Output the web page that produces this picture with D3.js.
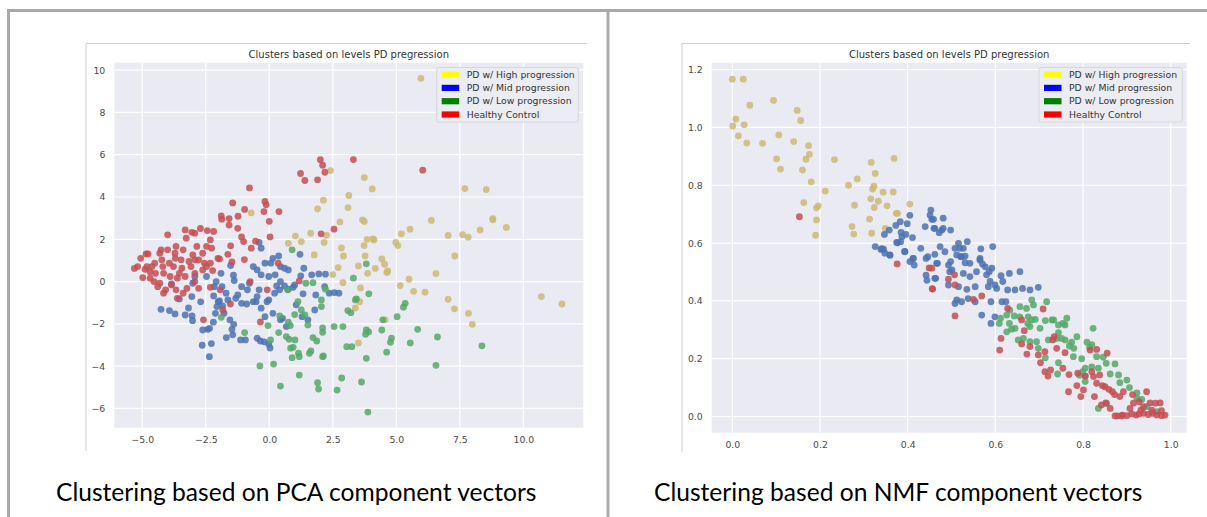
<!DOCTYPE html>
<html>
<head>
<meta charset="utf-8">
<title>Clusters based on levels PD progression</title>
<script src="https://cdn.jsdelivr.net/npm/d3@7"></script>
<style>
  body { margin: 0; background: #fff; }
  svg { display: block; }
  .tick text { font-family: "DejaVu Sans", sans-serif; font-size: 9.3px; fill: #4a4a4a; }
  .ptitle { font-family: "DejaVu Sans", sans-serif; font-size: 10px; fill: #333; }
  .legend text { font-family: "DejaVu Sans", sans-serif; font-size: 9.3px; fill: #333; }
  .caption { font-family: Lato, "Open Sans", sans-serif; font-size: 24.6px; fill: #000; }
</style>
</head>
<body>
<script>
// legend labels / colours
var legendLabels = ["PD w/ High progression", "PD w/ Mid progression", "PD w/ Low progression", "Healthy Control"];
var legendColors = ["#ffff00", "#0000ff", "#008000", "#ff0000"];
var pointColors = ["#ccb974", "#4c72b0", "#55a868", "#c44e52"];

// PCA panel ticks
var pcaXTicks = [-5, -2.5, 0, 2.5, 5, 7.5, 10];
var pcaYTicks = [-6, -4, -2, 0, 2, 4, 6, 8, 10];
// NMF panel ticks
var nmfXTicks = [0, 0.2, 0.4, 0.6, 0.8, 1.0];
var nmfYTicks = [0, 0.2, 0.4, 0.6, 0.8, 1.0, 1.2];

// PCA clusters [x, y]
var pcaHigh = [[5.97,9.61],[2.41,5.25],[3.74,4.92],[4.05,4.38],[3.13,4.07],[2.13,3.85],[1.90,3.44],[3.10,3.50],
  [-0.71,3.25],[3.67,2.92],[3.74,2.84],[2.78,2.82],[6.38,2.89],[7.70,4.40],[8.54,4.35],[8.80,2.98],[8.80,2.92],
  [9.33,2.56],[8.30,2.44],[7.61,2.22],[7.04,2.18],[7.83,2.10],[5.54,2.48],[5.20,2.26],[1.63,2.29],[1.03,2.15],
  [2.25,2.19],[0.75,1.81],[1.26,1.89],[2.16,1.85],[3.85,2.00],[4.08,2.02],[4.12,1.97],[4.98,1.85],[5.06,1.70],
  [2.84,1.59],[3.73,1.70],[2.92,1.21],[1.77,1.26],[3.77,1.21],[4.43,1.07],[7.30,1.21],[2.71,0.66],[3.51,0.74],
  [4.17,0.62],[4.54,0.82],[4.66,0.50],[4.63,0.43],[3.87,0.39],[2.50,0.33],[6.56,0.38],[5.50,0.11],[2.90,-0.05],
  [5.15,-0.19],[3.59,-0.30],[5.68,-0.46],[6.13,-0.50],[7.04,-0.84],[3.56,-0.95],[3.39,-1.25],[10.71,-0.71],
  [11.52,-1.06],[7.29,-1.29],[7.84,-1.50],[4.56,-1.81],[7.99,-2.02],[3.51,-2.90]];

var pcaMid = [[-4.26,-1.31],[-3.93,-1.37],[-3.71,-1.53],[-3.54,-0.82],[-3.85,-0.11],[-3.31,-1.58],[-3.04,-1.62],
  [-3.02,-1.85],[-3.05,-0.71],[-3.18,-1.25],[-2.70,-0.96],[-2.64,-3.01],[-2.36,-3.55],[-2.28,-2.93],[-2.62,-2.29],
  [-2.42,-2.26],[-2.20,-1.92],[-2.35,-2.21],[-2.12,-1.50],[-2.06,-1.18],[-1.96,-0.91],[-1.78,-1.50],[-1.55,-1.81],
  [-1.47,-2.26],[-1.40,-2.02],[-1.69,-2.65],[-1.44,-2.52],[-1.13,-2.76],[-0.94,-2.76],[-0.48,-2.68],[-0.35,-2.81],
  [-0.20,-2.85],[0.03,-3.14],[-0.02,-2.95],[-2.19,-0.68],[-2.01,-0.95],[-1.84,-1.15],[-1.63,-0.87],[-1.24,-0.63],
  [-1.09,-1.03],[-0.89,-1.06],[-0.63,-0.95],[-0.52,-0.95],[-0.32,-1.26],[-0.09,-0.95],[-0.02,-0.87],[-0.17,-1.66],
  [0.21,-0.55],[0.29,-0.21],[0.41,-0.39],[0.75,-0.36],[1.00,-0.16],[1.24,0.27],[1.21,1.29],[1.36,0.63],[1.67,0.32],
  [1.95,0.36],[2.21,0.35],[2.18,-0.24],[2.36,-0.55],[2.56,-0.52],[2.74,-0.55],[1.83,-0.63],[1.33,-0.58],[0.94,-0.27],
  [-0.40,1.85],[-0.32,1.58],[-1.52,0.76],[-1.41,0.30],[-1.38,0.05],[-1.09,-0.24],[-0.78,-0.08],[-0.63,0.71],
  [-0.48,0.55],[-0.32,0.32],[-0.17,0.87],[0.06,0.87],[0.14,1.10],[0.37,1.21],[0.60,0.63],[0.75,0.55],[0.44,0.71],
  [-0.02,0.24],[0.23,0.32],[0.44,0.00],[0.60,-0.21],[-1.90,0.39],[-2.09,0.00],[-2.16,-0.24],[-2.47,0.24],[-2.93,0.24],
  [-3.01,-0.08],[-1.86,-0.24],[-1.70,-0.55],[-1.32,-0.79],[-0.86,-0.39],[-0.40,-0.39],[-0.48,-0.71],[0.14,-1.50],
  [0.44,-1.81],[0.67,-2.13],[0.52,-1.74],[1.29,-1.66],[1.52,-1.81],[1.06,-1.10],[1.79,-1.34]];

var pcaLow = [[0.90,1.50],[3.82,0.84],[3.31,0.16],[1.44,-0.08],[1.72,-0.05],[2.21,-0.36],[3.92,-0.58],[3.39,-0.87],
  [3.43,-0.82],[5.35,-1.03],[5.28,-1.21],[5.03,-1.66],[3.09,-1.37],[3.21,-1.47],[4.47,-1.81],[5.84,-2.26],[6.62,-2.62],
  [4.81,-2.67],[4.77,-2.87],[4.43,-2.29],[3.82,-2.29],[3.91,-2.38],[3.79,-2.49],[5.55,-2.90],[4.62,-3.34],[8.37,-3.04],
  [6.56,-3.96],[3.82,-3.63],[3.63,-4.75],[3.88,-6.17],[2.67,-5.13],[2.85,-4.56],[2.90,-2.13],[2.55,-2.13],[3.05,-3.08],
  [3.25,-3.08],[2.10,-3.55],[2.13,-3.52],[1.90,-4.78],[1.94,-5.08],[1.18,-4.42],[1.64,-3.28],[1.58,-3.39],[1.87,-2.81],
  [1.72,-2.65],[2.10,-2.19],[2.10,-2.40],[1.52,-2.05],[1.40,-1.58],[1.26,-1.34],[1.13,-0.95],[2.05,-1.18],[2.05,-0.87],
  [0.72,-0.39],[1.00,-1.56],[0.75,-1.92],[0.83,-2.08],[0.41,-1.62],[0.37,-2.41],[-0.05,-2.08],[0.05,-2.76],[0.67,-2.60],
  [0.78,-2.73],[1.01,-2.76],[0.84,-3.15],[0.94,-3.11],[0.90,-3.60],[1.15,-3.39],[1.18,-3.55],[0.44,-4.94],[0.17,-3.90],
  [-0.37,-3.99],[-0.97,-2.41],[-1.89,-1.69]];

var pcaHealthy = [[2.01,5.76],[3.31,5.77],[2.10,5.50],[2.19,5.17],[1.23,5.11],[1.40,4.78],[1.90,4.81],[6.04,5.27],
  [-0.78,4.43],[-0.17,3.79],[-0.12,3.63],[-0.21,3.31],[0.38,3.31],[0.00,2.85],[0.03,2.11],[-1.44,3.72],[-0.97,3.41],
  [-1.23,3.09],[-1.58,2.98],[-1.89,3.11],[-1.87,2.95],[-1.24,2.52],[-1.58,2.67],[-1.09,2.11],[-1.01,1.89],[-0.54,1.91],
  [-0.71,1.58],[-1.52,1.69],[-1.63,1.29],[-2.02,1.10],[-1.96,1.07],[-0.98,1.04],[-1.47,0.93],[2.04,2.26],[2.55,2.48],
  [0.35,0.87],[-0.75,0.00],[-0.35,-1.91],[1.18,0.03],[-0.08,-0.39],[-2.59,-1.81],[-1.83,-1.34],[-1.53,-1.06],
  [-1.93,-0.39],[-2.32,-0.27],[-5.31,0.62],[-5.18,0.71],[-4.98,0.19],[-4.89,0.58],[-4.85,1.31],[-4.77,1.31],
  [-4.82,0.71],[-4.69,0.47],[-4.62,0.71],[-4.54,0.00],[-4.48,0.39],[-4.39,-0.24],[-4.31,1.34],[-4.26,1.50],
  [-4.19,0.71],[-4.16,-0.55],[-4.08,-0.39],[-4.23,1.03],[-4.00,2.21],[-4.00,1.50],[-3.93,0.87],[-3.90,0.24],
  [-3.77,0.71],[-3.85,-0.16],[-3.71,1.34],[-3.67,1.66],[-3.62,-0.79],[-3.54,0.39],[-3.47,1.03],[-3.39,1.50],
  [-3.27,2.05],[-3.31,2.44],[-3.05,2.33],[-2.93,2.29],[-2.71,2.51],[-2.44,2.41],[-2.19,2.37],[-2.32,1.97],
  [-2.47,1.66],[-2.62,1.34],[-2.85,1.66],[-3.01,1.26],[-3.16,0.95],[-3.08,0.71],[-2.78,1.03],[-2.55,0.87],
  [-2.32,0.87],[-2.27,1.58],[-3.31,0.24],[-2.93,0.39],[-2.62,0.55],[-3.24,-0.32],[-3.39,-0.55],[-2.78,-0.32],
  [-2.47,0.71],[-3.62,0.16],[-4.16,0.39],[-4.51,0.87],[-5.06,1.10],[-3.70,1.10],[-3.44,0.63],[-2.93,1.03],
  [-2.23,0.52],[-4.31,-0.08],[-2.93,0.00],[-3.67,-0.39],[-4.69,0.16]];

// NMF clusters [x, y]
var nmfHigh = [[0.000,1.167],[0.025,1.167],[0.040,1.077],[0.008,1.029],[0.001,1.005],[0.027,1.009],[0.014,0.971],
  [0.033,0.946],[0.069,0.945],[0.094,1.094],[0.101,0.891],[0.110,0.856],[0.106,0.974],[0.140,0.951],[0.148,1.059],
  [0.156,1.024],[0.174,0.937],[0.176,0.907],[0.168,0.890],[0.160,0.853],[0.180,0.812],[0.163,0.740],[0.192,0.722],
  [0.196,0.729],[0.192,0.680],[0.190,0.627],[0.212,0.780],[0.233,0.889],[0.265,0.800],[0.285,0.822],[0.279,0.731],
  [0.273,0.657],[0.277,0.631],[0.317,0.879],[0.326,0.841],[0.323,0.797],[0.320,0.787],[0.316,0.753],[0.324,0.723],
  [0.333,0.745],[0.344,0.776],[0.353,0.729],[0.313,0.683],[0.318,0.634],[0.367,0.777],[0.369,0.893],[0.374,0.703],
  [0.377,0.703],[0.405,0.735],[0.349,0.651]];

var nmfMid = [[0.453,0.714],[0.451,0.697],[0.455,0.682],[0.405,0.696],[0.399,0.667],[0.383,0.674],[0.373,0.661],
  [0.358,0.645],[0.347,0.630],[0.385,0.637],[0.387,0.622],[0.396,0.630],[0.377,0.601],[0.384,0.605],[0.411,0.619],
  [0.440,0.657],[0.460,0.651],[0.472,0.636],[0.430,0.582],[0.393,0.571],[0.359,0.559],[0.326,0.588],[0.345,0.579],
  [0.339,0.578],[0.348,0.565],[0.413,0.547],[0.442,0.547],[0.462,0.561],[0.341,0.581],[0.360,0.558],[0.375,0.602],
  [0.394,0.570],[0.405,0.536],[0.412,0.547],[0.415,0.524],[0.446,0.553],[0.442,0.489],[0.444,0.471],[0.464,0.478],
  [0.468,0.530],[0.474,0.588],[0.459,0.682],[0.481,0.686],[0.462,0.651],[0.478,0.645],[0.481,0.651],[0.498,0.645],
  [0.516,0.599],[0.536,0.605],[0.527,0.582],[0.519,0.582],[0.567,0.580],[0.594,0.588],[0.512,0.559],[0.523,0.553],
  [0.565,0.547],[0.466,0.530],[0.462,0.478],[0.493,0.524],[0.498,0.536],[0.501,0.507],[0.496,0.501],[0.521,0.553],
  [0.531,0.555],[0.531,0.532],[0.542,0.530],[0.527,0.495],[0.542,0.484],[0.557,0.501],[0.565,0.541],[0.571,0.527],
  [0.577,0.518],[0.586,0.501],[0.592,0.513],[0.580,0.490],[0.588,0.467],[0.599,0.455],[0.613,0.487],[0.632,0.495],
  [0.656,0.501],[0.617,0.467],[0.628,0.438],[0.645,0.438],[0.662,0.443],[0.679,0.438],[0.698,0.447],[0.603,0.443],
  [0.584,0.449],[0.554,0.449],[0.535,0.440],[0.516,0.449],[0.493,0.455],[0.512,0.403],[0.523,0.397],[0.538,0.408],
  [0.554,0.397],[0.590,0.397],[0.615,0.397],[0.624,0.397],[0.569,0.351],[0.590,0.322],[0.599,0.345],[0.508,0.391],
  [0.508,0.582],[0.485,0.570]];

var nmfLow = [[0.683,0.403],[0.717,0.397],[0.656,0.380],[0.671,0.374],[0.687,0.386],[0.633,0.368],[0.643,0.348],
  [0.626,0.351],[0.612,0.340],[0.609,0.322],[0.632,0.322],[0.645,0.305],[0.626,0.293],[0.637,0.302],[0.656,0.345],
  [0.675,0.345],[0.683,0.334],[0.679,0.311],[0.691,0.336],[0.674,0.322],[0.714,0.332],[0.729,0.334],[0.733,0.334],
  [0.744,0.317],[0.754,0.322],[0.763,0.340],[0.759,0.317],[0.744,0.290],[0.740,0.270],[0.751,0.270],[0.759,0.265],
  [0.769,0.244],[0.779,0.236],[0.774,0.257],[0.786,0.276],[0.823,0.305],[0.809,0.257],[0.820,0.249],[0.815,0.240],
  [0.652,0.265],[0.664,0.270],[0.679,0.259],[0.694,0.259],[0.698,0.236],[0.702,0.305],[0.721,0.265],[0.714,0.203],
  [0.744,0.186],[0.742,0.147],[0.778,0.207],[0.797,0.200],[0.805,0.167],[0.820,0.172],[0.831,0.207],[0.846,0.205],
  [0.853,0.184],[0.835,0.167],[0.862,0.147],[0.873,0.182],[0.881,0.144],[0.900,0.126],[0.906,0.100],[0.884,0.117],
  [0.923,0.082],[0.934,0.059],[0.945,0.034],[0.968,0.017],[0.854,0.045],[0.835,0.028],[0.805,0.140],[0.805,0.121],
  [0.792,0.143],[0.799,0.155],[0.923,0.063]];

var nmfHealthy = [[0.153,0.691],[0.376,0.528],[0.449,0.514],[0.456,0.442],[0.455,0.513],[0.507,0.490],[0.493,0.475],
  [0.508,0.455],[0.457,0.441],[0.508,0.348],[0.569,0.417],[0.550,0.405],[0.628,0.374],[0.613,0.270],[0.610,0.230],
  [0.660,0.334],[0.666,0.297],[0.660,0.251],[0.672,0.216],[0.679,0.242],[0.709,0.372],[0.713,0.224],[0.698,0.213],
  [0.703,0.186],[0.713,0.155],[0.720,0.140],[0.726,0.161],[0.734,0.276],[0.731,0.265],[0.740,0.236],[0.754,0.167],
  [0.768,0.145],[0.767,0.086],[0.759,0.221],[0.786,0.107],[0.788,0.150],[0.795,0.069],[0.801,0.092],[0.805,0.140],
  [0.820,0.155],[0.824,0.138],[0.826,0.069],[0.816,0.230],[0.831,0.232],[0.855,0.219],[0.831,0.115],[0.838,0.144],
  [0.844,0.107],[0.850,0.103],[0.859,0.094],[0.867,0.086],[0.872,0.076],[0.842,0.040],[0.852,0.047],[0.862,0.028],
  [0.873,0.002],[0.879,0.002],[0.890,0.005],[0.900,0.003],[0.911,0.009],[0.921,0.005],[0.928,0.009],[0.938,0.011],
  [0.949,0.007],[0.959,0.011],[0.968,0.005],[0.979,0.003],[0.987,0.005],[0.915,0.046],[0.928,0.051],[0.938,0.034],
  [0.953,0.047],[0.965,0.046],[0.976,0.047],[0.945,0.086],[0.913,0.076],[0.892,0.086],[0.884,0.069],[0.907,0.028],
  [0.932,0.022],[0.957,0.022],[0.979,0.020],[0.888,0.002]];

const W = 1207, H = 517;
const svg = d3.select("body").append("svg").attr("width", W).attr("height", H);

// outer slide frame
const frame = "#a9a9a9";
svg.append("line").attr("x1", 7).attr("x2", W).attr("y1", 10.5).attr("y2", 10.5).attr("stroke", frame).attr("stroke-width", 3);
svg.append("line").attr("x1", 8.5).attr("x2", 8.5).attr("y1", 9).attr("y2", H).attr("stroke", frame).attr("stroke-width", 3);
svg.append("line").attr("x1", 608).attr("x2", 608).attr("y1", 9).attr("y2", H).attr("stroke", frame).attr("stroke-width", 3);

function drawPanel(p) {
  const g = svg.append("g");
  // faint figure edge
  g.append("path")
    .attr("d", "M" + p.figRight + "," + p.figTop + "H" + p.figLeft + "V" + p.figBottom)
    .attr("fill", "none").attr("stroke", "#cfcfcf").attr("stroke-width", 1);

  const x = d3.scaleLinear().domain(p.xDomain).range([p.left, p.right]);
  const y = d3.scaleLinear().domain(p.yDomain).range([p.bottom, p.top]);

  g.append("rect").attr("x", p.left).attr("y", p.top)
    .attr("width", p.right - p.left).attr("height", p.bottom - p.top).attr("fill", "#eaeaf2");

  // grid
  g.selectAll(".gx").data(p.xTicks).enter().append("line")
    .attr("x1", d => x(d)).attr("x2", d => x(d)).attr("y1", p.top).attr("y2", p.bottom)
    .attr("stroke", "#fff").attr("stroke-width", 1.2);
  g.selectAll(".gy").data(p.yTicks).enter().append("line")
    .attr("y1", d => y(d)).attr("y2", d => y(d)).attr("x1", p.left).attr("x2", p.right)
    .attr("stroke", "#fff").attr("stroke-width", 1.2);

  const fmt = d => d3.format(p.fmt)(d).replace("-", "\u2212");
  const xAxis = d3.axisBottom(x).tickValues(p.xTicks).tickFormat(fmt).tickSize(0).tickPadding(9);
  const yAxis = d3.axisLeft(y).tickValues(p.yTicks).tickFormat(p.yfmt ? (d => d3.format(p.yfmt)(d).replace("-", "\u2212")) : fmt).tickSize(0).tickPadding(9);
  g.append("g").attr("transform", "translate(0," + p.bottom + ")").call(xAxis).call(a => a.select(".domain").remove());
  g.append("g").attr("transform", "translate(" + p.left + ",0)").call(yAxis).call(a => a.select(".domain").remove());

  // points
  const clip = "clip" + p.id;
  g.append("clipPath").attr("id", clip).append("rect")
    .attr("x", p.left).attr("y", p.top).attr("width", p.right - p.left).attr("height", p.bottom - p.top);
  const pts = g.append("g").attr("clip-path", "url(#" + clip + ")");
  p.series.forEach((s, i) => {
    pts.selectAll(null).data(s).enter().append("circle")
      .attr("cx", d => x(d[0])).attr("cy", d => y(d[1])).attr("r", 3.4)
      .attr("fill", pointColors[i]).attr("fill-opacity", 0.85);
  });

  g.append("text").attr("class", "ptitle").attr("x", (p.left + p.right) / 2).attr("y", 57.5)
    .attr("text-anchor", "middle").text("Clusters based on levels PD pregression");

  // legend
  const lg = g.append("g").attr("class", "legend");
  lg.append("rect").attr("x", p.legX).attr("y", 67.5).attr("width", p.legW).attr("height", 54.5)
    .attr("rx", 2).attr("fill", "#ececf3").attr("stroke", "#d6d6dc").attr("stroke-width", 1);
  legendLabels.forEach((t, i) => {
    const cy = 74.5 + i * 13.3;
    lg.append("rect").attr("x", p.legX + 5).attr("y", cy - 3).attr("width", 17.5).attr("height", 6.2).attr("fill", legendColors[i]);
    lg.append("text").attr("x", p.legX + 30).attr("y", cy + 3.3).text(t);
  });

  svg.append("text").attr("class", "caption").attr("x", p.capX).attr("y", 501).text(p.caption);
}

drawPanel({
  id: "pca", left: 114.3, right: 583.3, top: 62.7, bottom: 427.7,
  xDomain: [-6.10, 12.36], yDomain: [-6.91, 10.35],
  xTicks: pcaXTicks, yTicks: pcaYTicks, fmt: ".1f", yfmt: "d",
  figLeft: 86, figTop: 43.5, figRight: 587, figBottom: 451,
  legX: 436.7, legW: 141.6,
  series: [pcaHigh, pcaMid, pcaLow, pcaHealthy],
  capX: 56, caption: "Clustering based on PCA component vectors"
});

drawPanel({
  id: "nmf", left: 711.7, right: 1186.7, top: 62.7, bottom: 432.7,
  xDomain: [-0.047, 1.0365], yDomain: [-0.056, 1.224],
  xTicks: nmfXTicks, yTicks: nmfYTicks, fmt: ".1f",
  figLeft: 682, figTop: 43.5, figRight: 1190, figBottom: 452,
  legX: 1039, legW: 143.3,
  series: [nmfHigh, nmfMid, nmfLow, nmfHealthy],
  capX: 654, caption: "Clustering based on NMF component vectors"
});
</script>
</body>
</html>
